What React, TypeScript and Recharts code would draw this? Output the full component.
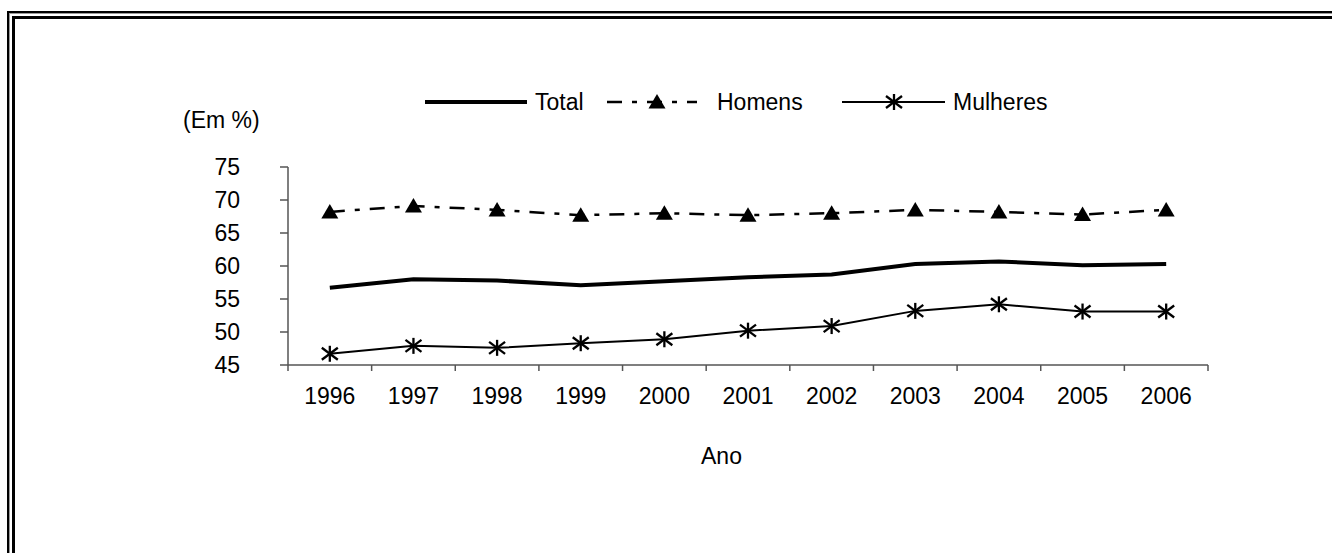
import { LineChart, Line, XAxis, YAxis } from "recharts";

const years = ["1996", "1997", "1998", "1999", "2000", "2001", "2002", "2003", "2004", "2005", "2006"];
const total = [56.7, 58.0, 57.8, 57.1, 57.7, 58.3, 58.7, 60.3, 60.7, 60.1, 60.3];
const homens = [68.2, 69.1, 68.5, 67.7, 68.0, 67.7, 68.0, 68.5, 68.2, 67.8, 68.5];
const mulheres = [46.7, 47.9, 47.6, 48.3, 48.9, 50.2, 50.9, 53.2, 54.2, 53.1, 53.1];
const yTicks = [45, 50, 55, 60, 65, 70, 75];

const FONT = "'Liberation Sans', Arial, sans-serif";
const AXIS = "#555";

// points sit in the middle of each year, tick marks sit between years
const data = years.map((year, i) => ({
  year,
  pos: i + 0.5,
  total: total[i],
  homens: homens[i],
  mulheres: mulheres[i],
}));
const boundaryTicks = [...years.map((_, i) => i), years.length];
const centerTicks = data.map((d) => d.pos);

const Triangle = (props: any) => {
  const { cx, cy } = props;
  if (cx == null || cy == null) return null;
  return <path d={`M${cx},${cy - 8}L${cx + 8.5},${cy + 6.5}L${cx - 8.5},${cy + 6.5}Z`} fill="#000" />;
};

const Star = (props: any) => {
  const { cx, cy } = props;
  if (cx == null || cy == null) return null;
  return (
    <g stroke="#000" strokeWidth={2.3}>
      <line x1={cx} y1={cy - 8} x2={cx} y2={cy + 8} />
      <line x1={cx - 8} y1={cy - 6} x2={cx + 8} y2={cy + 6} />
      <line x1={cx - 8} y1={cy + 6} x2={cx + 8} y2={cy - 6} />
    </g>
  );
};

const textStyle: React.CSSProperties = {
  position: "absolute",
  fontFamily: FONT,
  fontSize: 23,
  color: "#000",
  lineHeight: "26px",
  whiteSpace: "nowrap",
};

function LegendBox() {
  return (
    <>
      <svg style={{ position: "absolute", left: 425, top: 92 }} width={102} height={20}>
        <line x1={0} y1={10} x2={102} y2={10} stroke="#000" strokeWidth={4} />
      </svg>
      <span style={{ ...textStyle, left: 535, top: 89 }}>Total</span>
      <svg style={{ position: "absolute", left: 605, top: 92 }} width={92} height={20}>
        <line x1={2} y1={10} x2={92} y2={10} stroke="#000" strokeWidth={2.5} strokeDasharray="15 10 5 10" />
        <Triangle cx={52} cy={10} />
      </svg>
      <span style={{ ...textStyle, left: 717, top: 89 }}>Homens</span>
      <svg style={{ position: "absolute", left: 842, top: 92 }} width={103} height={20}>
        <line x1={0} y1={10} x2={103} y2={10} stroke="#000" strokeWidth={2} />
        <Star cx={52} cy={10} />
      </svg>
      <span style={{ ...textStyle, left: 953, top: 89 }}>Mulheres</span>
    </>
  );
}

export default function App() {
  return (
    <div style={{ position: "absolute", left: 0, top: 0, width: 1332, height: 553, overflow: "hidden", background: "#fff" }}>
      {/* page frame */}
      <div style={{ position: "absolute", left: 7, top: 11, width: 2000, height: 2000, borderTop: "2px solid #000", borderLeft: "2px solid #000" }} />
      <div style={{ position: "absolute", left: 9, top: 13, width: 2000, height: 2000, borderTop: "1px solid #999", borderLeft: "1px solid #999" }} />
      <div style={{ position: "absolute", left: 12, top: 16, width: 2000, height: 2000, borderTop: "3px solid #000", borderLeft: "3px solid #000" }} />

      <div style={{ position: "absolute", left: 0, top: 0 }}>
        <LineChart width={1332} height={553} data={data} margin={{ top: 167, right: 124, bottom: 127, left: 0 }}>
          <XAxis
            xAxisId="labels"
            dataKey="pos"
            type="number"
            domain={[0, years.length]}
            ticks={centerTicks}
            tickFormatter={(v: number) => years[Math.floor(v)]}
            height={60}
            tickSize={0}
            tickMargin={22}
            axisLine={false}
            tickLine={false}
            tick={{ fill: "#000", fontSize: 23, fontFamily: FONT }}
          />
          <XAxis
            xAxisId="axis"
            dataKey="pos"
            type="number"
            domain={[0, years.length]}
            ticks={boundaryTicks}
            tickFormatter={() => ""}
            height={1}
            tickSize={6}
            axisLine={{ stroke: AXIS, strokeWidth: 1.5 }}
            tickLine={{ stroke: AXIS, strokeWidth: 1.5 }}
          />
          <YAxis
            domain={[45, 75]}
            ticks={yTicks}
            width={288}
            tickSize={8}
            tickMargin={40}
            axisLine={{ stroke: AXIS, strokeWidth: 1.5 }}
            tickLine={{ stroke: AXIS, strokeWidth: 1.5 }}
            tick={{ fill: "#000", fontSize: 23, fontFamily: FONT }}
          />
          <Line xAxisId="labels" dataKey="total" stroke="#000" strokeWidth={4} dot={false} isAnimationActive={false} />
          <Line
            xAxisId="labels"
            dataKey="homens"
            stroke="#000"
            strokeWidth={2.5}
            strokeDasharray="15 10 5 10"
            dot={<Triangle />}
            isAnimationActive={false}
          />
          <Line xAxisId="labels" dataKey="mulheres" stroke="#000" strokeWidth={2} dot={<Star />} isAnimationActive={false} />
        </LineChart>
      </div>

      <LegendBox />
      <span style={{ ...textStyle, left: 183, top: 107 }}>(Em %)</span>
      <span style={{ ...textStyle, left: 701, top: 443 }}>Ano</span>
    </div>
  );
}
